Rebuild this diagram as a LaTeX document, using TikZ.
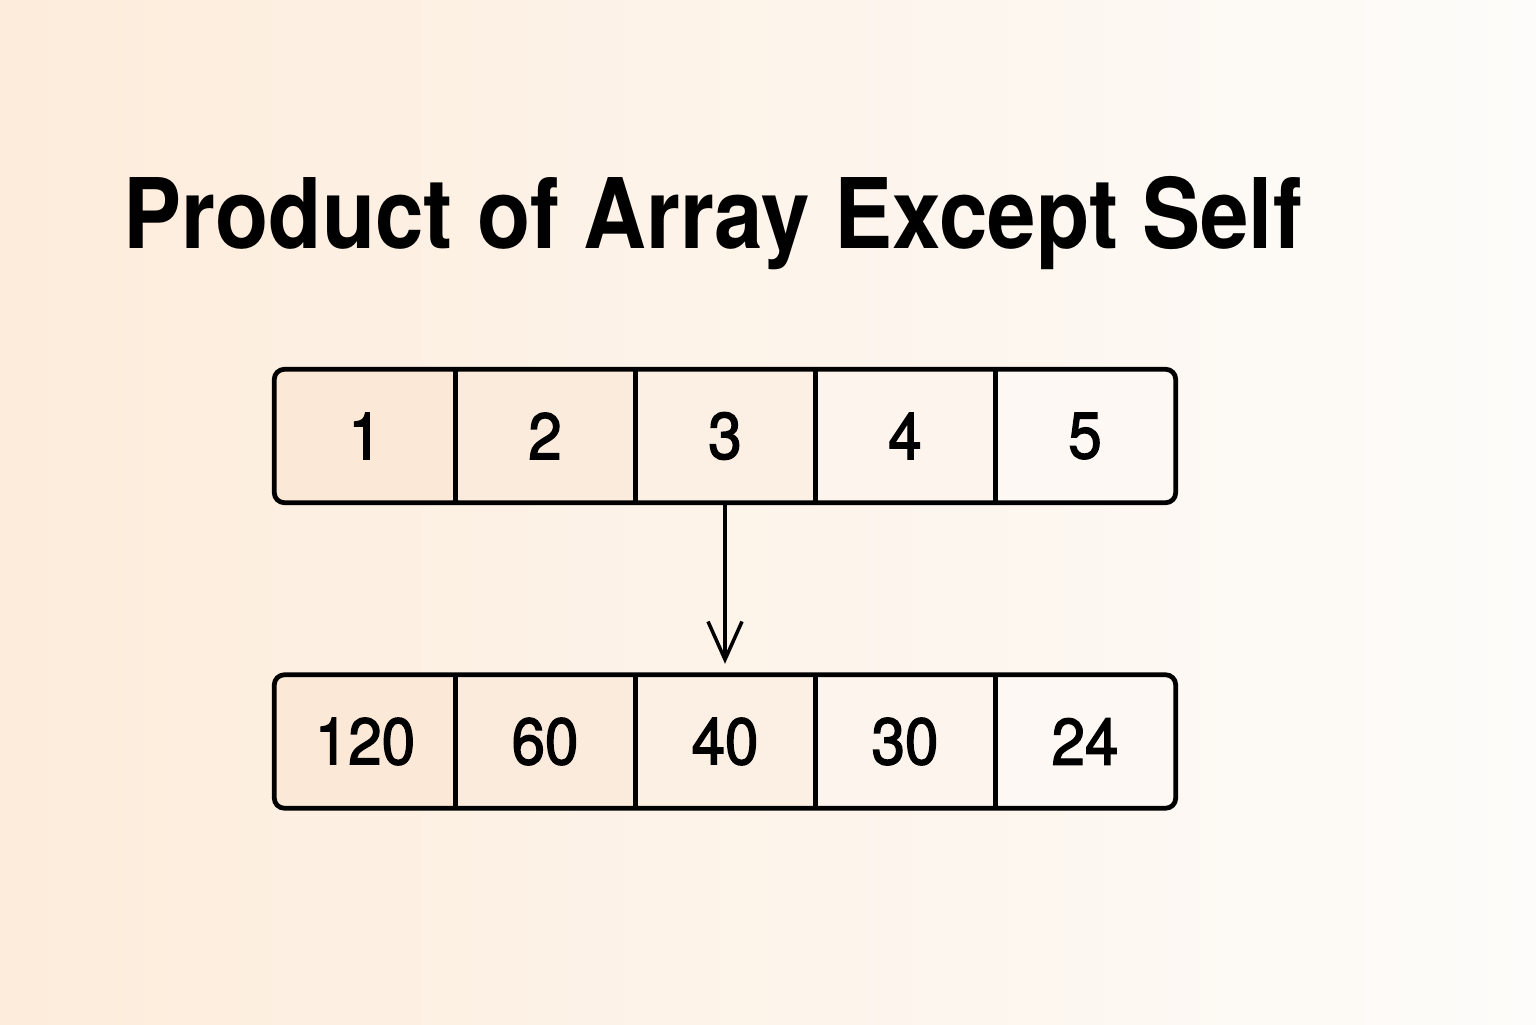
\documentclass[tikz,border=0pt]{standalone}
\usepackage{fontspec}
\setmainfont{TeX Gyre Heros}
\newfontfamily\cellfont[FakeBold=2.2]{TeX Gyre Heros}
\usepackage{xcolor}
\usetikzlibrary{positioning,calc,arrows.meta}

\definecolor{bgpeach}{HTML}{FDECDB}
\definecolor{bgmid}{HTML}{FDF6F0}
\definecolor{bgwhite}{HTML}{FDFCFA}
\definecolor{cellA}{HTML}{FBE8D6}
\definecolor{cellB}{HTML}{FBEBDC}
\definecolor{cellC}{HTML}{FCF0E5}
\definecolor{cellD}{HTML}{FCF4ED}
\definecolor{cellE}{HTML}{FDF8F4}

\newcommand{\narrowtext}[2]{\scalebox{#1}[1]{#2}}

\begin{document}
\begin{tikzpicture}[
    cell/.style={rectangle, minimum width=1.8cm, minimum height=1.32cm, inner sep=0pt,
                 font=\cellfont\fontsize{18.6}{20}\selectfont},
    frame/.style={line width=1.35pt, rounded corners=0.1cm},
    divider/.style={line width=1.35pt}
]
    % Background
    \shade[left color=bgpeach, middle color=bgmid, right color=bgwhite] (0,0) rectangle (15.36,10.24);
    \useasboundingbox (0,0) rectangle (15.36,10.24);

    % Title
    \node [anchor=base west, inner sep=0pt, font=\bfseries\fontsize{27.7}{30}\selectfont] (title) at (1.23,7.76)
        {\narrowtext{0.895}{Product of Array Except Self}};

    % Input array (top row)
    \foreach \i/\label/\col in {1/1/cellA, 2/2/cellB, 3/3/cellC, 4/4/cellD, 5/5/cellE} {
        \node [cell, fill=\col] (in\i) at (2.75+1.8*\i-0.9, 5.88) {\narrowtext{0.92}{\label}};
    }

    % Output array (bottom row)
    \foreach \i/\label/\col in {1/120/cellA, 2/60/cellB, 3/40/cellC, 4/30/cellD, 5/24/cellE} {
        \node [cell, fill=\col] (out\i) at (2.75+1.8*\i-0.9, 2.825) {\narrowtext{0.92}{\label}};
    }

    % Frames and cell dividers
    \draw [frame] (in1.south west) rectangle (in5.north east);
    \draw [frame] (out1.south west) rectangle (out5.north east);
    \foreach \i in {1,2,3,4} {
        \draw [divider] (in\i.north east) -- (in\i.south east);
        \draw [divider] (out\i.north east) -- (out\i.south east);
    }

    % Arrow from input to output
    \draw [line width=1pt, -{Straight Barb[length=0.38cm, width=0.34cm, line width=1pt]}, shorten >=0.11cm]
        (in3.south) -- (out3.north);
\end{tikzpicture}
\end{document}
